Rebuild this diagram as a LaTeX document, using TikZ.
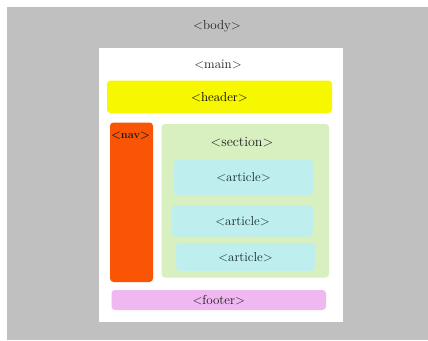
\documentclass[tikz,border=0pt]{standalone}
\usepackage{tikz}
\usetikzlibrary{positioning}
\definecolor{bodygray}{HTML}{C0C0C0}
\definecolor{hdryellow}{HTML}{F7F700}
\definecolor{navorange}{HTML}{F95505}
\definecolor{secgreen}{HTML}{D8EFC0}
\definecolor{artcyan}{HTML}{BEEEEE}
\definecolor{ftrpink}{HTML}{F0B8F0}
\definecolor{txtgray}{HTML}{1E1E1E}
\definecolor{txtteal}{HTML}{142828}

\begin{document}
\begin{tikzpicture}[
      x=1pt,y=-1pt,
      box/.style={
         rectangle,
         rounded corners=3.5pt,
         inner sep=0pt,
         draw=none
      },
      tag/.style={
         inner sep=0pt,
         font=\fontsize{13}{15}\selectfont,
         text=txtgray
      },
      article/.style={
         box,
         fill=artcyan,
         font=\fontsize{13}{15}\selectfont,
         text=txtteal
      }
    ]
    \useasboundingbox (0,0) rectangle (428,340);
    \fill[white] (0,0) rectangle (428,340);
    \fill[bodygray] (7,7) rectangle (428,340);
    \node (body) [tag] at (217,26) {<body>};
    % main page
    \node (main) [rectangle, fill=white, inner sep=0pt,
       minimum width=244.5pt, minimum height=274.5pt] at (220.75,184.75) {};
    \node (mainlbl) [tag] at (218,64) {<main>};
    \node (header) [box, fill=hdryellow, minimum width=225pt, minimum height=32.5pt,
       font=\fontsize{13}{15}\selectfont, text=black] at (219.5,96.75) {<header>};
    \node (nav) [box, fill=navorange, minimum width=43pt, minimum height=159.5pt] at (131.5,202.25) {};
    \node (navlbl) [tag, font=\fontsize{11}{13}\selectfont\bfseries, text=black!90] at (130.5,136) {<nav>};
    \node (section) [box, fill=secgreen, minimum width=167.5pt, minimum height=153.5pt] at (245.25,200.75) {};
    \node (seclbl) [tag, font=\fontsize{14}{16}\selectfont] at (242,142) {<section>};
    \node (art1) [article, minimum width=139pt, minimum height=35.5pt] at (243.5,177.5) {<article>};
    \node (art2) [article, minimum width=141pt, minimum height=31pt] at (242.5,221) {<article>};
    \node (art3) [article, minimum width=139pt, minimum height=27.5pt] at (245.5,257) {<article>};
    \node (footer) [box, fill=ftrpink, minimum width=214.5pt, minimum height=20pt,
       font=\fontsize{13}{15}\selectfont, text=black!90] at (218.75,300) {<footer>};
\end{tikzpicture}
\end{document}
